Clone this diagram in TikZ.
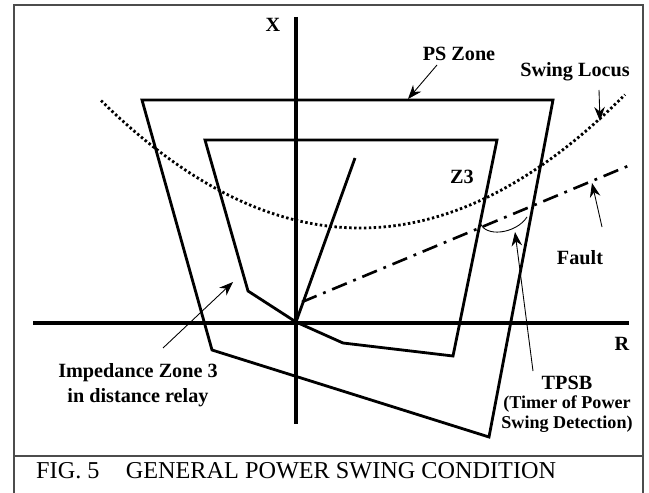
\documentclass[tikz,border=0pt]{standalone}
\usepackage{fontspec}
\setmainfont{Liberation Serif}
\usetikzlibrary{arrows.meta,positioning}

\begin{document}
\begin{tikzpicture}[
        x=0.02cm, y=-0.02cm,
        border/.style={
            draw=black!70,
            line width=0.6pt
        },
        axis/.style={
            line width=1.8pt
        },
        zone/.style={
            line width=1.6pt,
            line join=miter
        },
        locus/.style={
            line width=1.6pt,
            dash pattern=on 1.4pt off 1.4pt
        },
        fault/.style={
            line width=1.5pt,
            dash pattern=on 9pt off 4pt on 1.6pt off 4pt
        },
        pointer/.style={
            -{Stealth[length=8pt, width=6pt]},
            line width=0.5pt
        },
        tag/.style={
            font=\bfseries\fontsize{11.5}{14.2}\selectfont,
            align=center,
            inner sep=1pt
        }
    ]
        \useasboundingbox (0,0) rectangle (649,493);

        % --- Cadre et légende ---
        \draw[border] (14,493) -- (14,5) -- (643,5) -- (643,493);
        \draw[border] (14,456) -- (643,456);
        \node[anchor=west, font=\fontsize{13.8}{16}\selectfont] (caption) at (30,471)
            {FIG. 5\hspace{15pt}GENERAL POWER SWING CONDITION};

        % --- Axes R-X ---
        \coordinate (O) at (296,322);
        \draw[axis] (33,323) -- (629,323);
        \draw[axis] (296,17) -- (296,424);
        \node[tag] (xlab) at (273,25) {X};
        \node[tag] (rlab) at (622,344) {R};

        % --- Zone PS et zone 3 ---
        \draw[zone] (142,100) -- (553,100) -- (489,437) -- (212,350) -- cycle;
        \draw[zone] (205,140) -- (497,140) -- (453,356) -- (343,343) -- (O) -- (248,291) -- cycle;
        \draw[zone] (O) -- (355,158);

        % --- Lieu d'oscillation et défaut ---
        \draw[locus] plot[domain=101:625, samples=80, smooth] (\x, {228-(0.04359*(\x-360))^2});
        \draw[fault] (302,302) -- (628,166);
        \draw[line width=0.5pt] (480,222) .. controls (484,238) and (516,234) .. (527,217);

        % --- Étiquettes ---
        \node[tag] (pszone) at (459,54) {PS Zone};
        \node[tag] (swing) at (575,72) {Swing Locus};
        \node[tag] (z3) at (462,177) {Z3};
        \node[tag] (fault) at (580,258) {Fault};
        \node[tag] (impedance) at (138,385) {Impedance Zone 3\\in distance relay};
        \node[tag] (tpsb) at (567,383) {TPSB};
        \node[tag, font=\bfseries\fontsize{10.3}{11.5}\selectfont, below=1pt of tpsb] (timer)
            {(Timer of Power\\Swing Detection)};

        % --- Flèches ---
        \coordinate (pstip) at (408,99);
        \coordinate (swingtip) at (600,121);
        \coordinate (faulttip) at (592,183);
        \coordinate (z3tip) at (233,282);
        \coordinate (tpsbtip) at (515,232);
        \draw[pointer] (437,65) -- (pstip);
        \draw[pointer] (599,90) -- (swingtip);
        \draw[pointer] (602,227) -- (faulttip);
        \draw[pointer] (163,348) -- (z3tip);
        \draw[pointer] (533,371) -- (tpsbtip);
    \end{tikzpicture}
\end{document}
